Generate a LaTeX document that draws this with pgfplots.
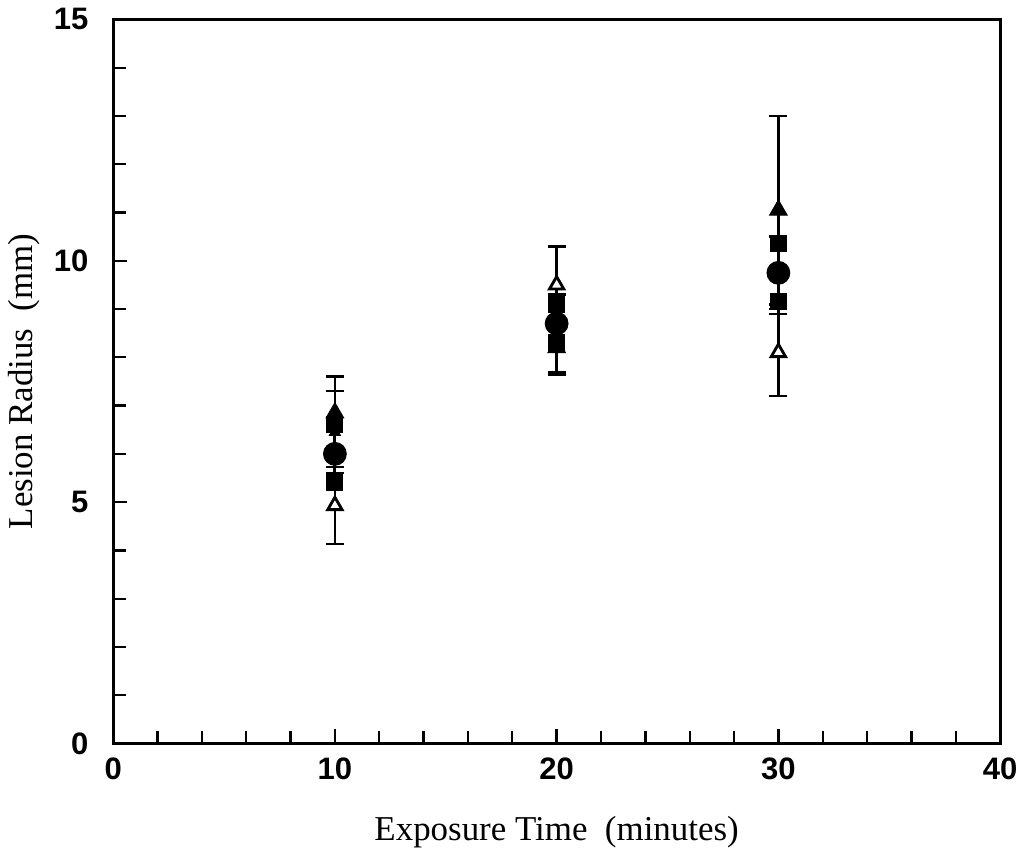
\documentclass[border=0pt]{standalone}
\usepackage{fontspec}
\setmainfont{Liberation Serif}
\newfontfamily\tickfont{Liberation Sans}
\usepackage{pgfplots}
\pgfplotsset{compat=1.18}

\begin{document}
\begin{tikzpicture}
\begin{axis}[
  scale only axis, width=343pt, height=280pt,
  xmin=0, xmax=40, ymin=0, ymax=15,
  xtick={0,10,20,30,40}, ytick={0,5,10,15},
  minor x tick num=4, minor y tick num=4,
  tick pos=left, tick align=inside,
  major tick length=5.5pt, minor tick length=5pt,
  every tick/.style={black, line width=0.9pt},
  axis line style={line width=1.2pt},
  ticklabel style={font=\tickfont\bfseries\fontsize{12}{14}\selectfont},
  /pgf/number format/assume math mode=true,
  yticklabel style={xshift=-6pt},
  xticklabel style={yshift=-2pt},
  label style={font=\fontsize{13.5}{15}\selectfont},
  xlabel={Exposure Time\ \ (minutes)},
  ylabel={Lesion Radius\ \ (mm)},
  xlabel style={at={(axis description cs:0.5,-0.123)}, anchor=center},
  ylabel style={at={(axis description cs:-0.1,0.5)}, anchor=center},
  clip=false,
]
% upper filled triangles
\addplot[black, only marks, mark=triangle*, mark size=3.9pt,
  error bars/.cd, y dir=both, y explicit,
  error bar style={line width=1pt},
  error mark=|, error mark options={mark size=3.5pt, line width=1pt}]
  coordinates {(10,6.85) +- (0,0.75) (20,8.2) +- (0,0.55) (30,11.05) +- (0,1.95)};
% small filled triangles
\addplot[black, only marks, mark=triangle*, mark size=2.4pt,
  error bars/.cd, y dir=both, y explicit,
  error bar style={line width=1pt},
  error mark=|, error mark options={mark size=3.5pt, line width=1pt}]
  coordinates {(10,6.45) +- (0,0.85) (20,8.5) +- (0,0.8) (30,9.7) +- (0,0.8)};
% open triangles
\addplot[black, only marks, mark=triangle*, mark size=3.2pt,
  mark options={fill=white, line width=1.1pt},
  error bars/.cd, y dir=both, y explicit,
  error bar style={line width=1pt},
  error mark=|, error mark options={mark size=3.5pt, line width=1pt}]
  coordinates {(10,4.93) +- (0,0.8) (20,9.5) +- (0,0.8) (30,8.1) +- (0,0.9)};
% filled circles with square caps
\addplot[black, only marks, mark=*, mark size=4.4pt,
  error bars/.cd, y dir=both, y explicit,
  error bar style={line width=1.2pt},
  error mark=square*, error mark options={mark size=3.1pt, fill=black}]
  coordinates {(10,6.0) +- (0,0.6) (20,8.7) +- (0,0.4) (30,9.75) +- (0,0.6)};
\end{axis}
\end{tikzpicture}
\end{document}
